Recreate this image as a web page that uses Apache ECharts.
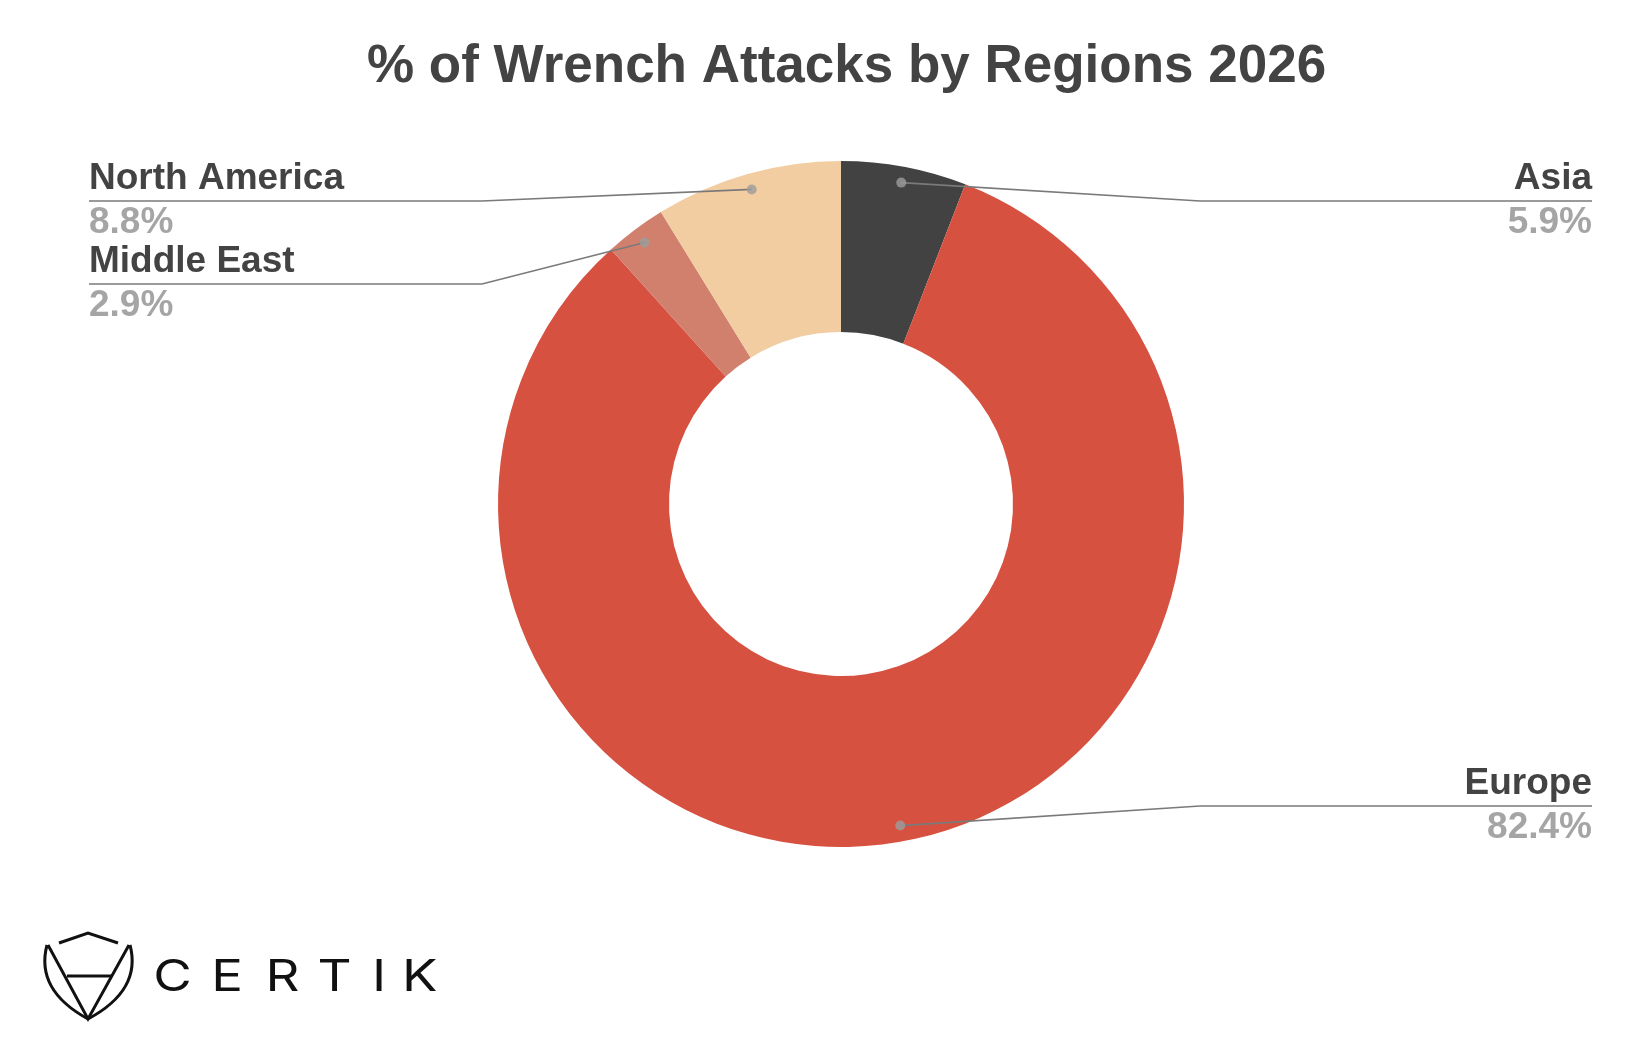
<!DOCTYPE html>
<html>
<head>
<meta charset="utf-8">
<script src="https://cdn.jsdelivr.net/npm/echarts@6/dist/echarts.min.js"></script>
<style>
html,body{margin:0;padding:0;background:#fff;}
#main{width:1642px;height:1046px;}
</style>
</head>
<body>
<div id="main"></div>
<script>
// ---- data ----
const regions = ['Asia', 'Europe', 'Middle East', 'North America'];
const shares = [5.9, 82.4, 2.9, 8.8];
const colors = ['#424242', '#d75141', '#d1806e', '#f2cda2'];
const titleText = '% of Wrench Attacks by Regions 2026';

// ---- layout (style, not data) ----
const CX = 841, CY = 504, R_OUT = 343, R_IN = 172, R_DOT = 327;
const labelLineY = [201, 806, 284, 201];
const LEFT_EDGE = 89, RIGHT_EDGE = 1592, BEND = 359;

const total = shares.reduce((a, b) => a + b, 0);
let acc = 0;
const dotData = shares.map(v => { const mid = acc + v / 2; acc += v; return [1, mid / total * 100]; });
const pieData = regions.map((n, i) => ({name: n, value: shares[i], itemStyle: {color: colors[i]}}));

const chart = echarts.init(document.getElementById('main'), null, {renderer: 'canvas'});
chart.setOption({
  backgroundColor: '#ffffff',
  animation: false,
  title: {
    text: titleText,
    left: 362, top: 36,
    textStyle: {fontFamily: 'Liberation Sans', fontWeight: 'bold', fontSize: 53, color: '#434343'}
  },
  polar: {center: [CX, CY], radius: R_DOT},
  angleAxis: {type: 'value', min: 0, max: 100, startAngle: 90, clockwise: true, show: false},
  radiusAxis: {type: 'value', min: 0, max: 1, show: false},
  series: [
    {
      type: 'pie',
      center: [CX, CY],
      radius: [R_IN, R_OUT],
      startAngle: 90,
      clockwise: true,
      silent: true,
      z: 1,
      data: pieData,
      label: {show: false},
      labelLine: {show: false}
    },
    {
      type: 'pie',
      center: [CX, CY],
      radius: [R_IN, R_OUT],
      startAngle: 90,
      clockwise: true,
      avoidLabelOverlap: false,
      silent: true,
      z: 3,
      itemStyle: {color: 'rgba(0,0,0,0)'},
      data: regions.map((n, i) => ({name: n, value: shares[i]})),
      label: {
        show: true,
        formatter: p => '{n|' + p.name + '}\n{v|' + p.value.toFixed(1) + '%}',
        rich: {
          n: {fontFamily: 'Liberation Sans', fontWeight: 'bold', fontSize: 37, color: '#434343', lineHeight: 44},
          v: {fontFamily: 'Liberation Sans', fontWeight: 'bold', fontSize: 37, color: '#a5a5a5', lineHeight: 44}
        }
      },
      labelLine: {show: true, smooth: false, lineStyle: {color: '#7a7a7a', width: 1.6}},
      labelLayout: function (params) {
        const i = params.dataIndex;
        const p0 = params.labelLinePoints[0];
        const k = R_DOT / R_OUT;
        const sx = CX + (p0[0] - CX) * k, sy = CY + (p0[1] - CY) * k;
        const isLeft = sx < CX;
        const y = labelLineY[i];
        const edge = isLeft ? LEFT_EDGE : RIGHT_EDGE;
        return {
          x: edge, y: y, align: isLeft ? 'left' : 'right', verticalAlign: 'middle',
          labelLinePoints: [[sx, sy], [CX + (isLeft ? -BEND : BEND), y], [edge, y]]
        };
      }
    },
    {
      type: 'scatter',
      coordinateSystem: 'polar',
      symbolSize: 10,
      silent: true,
      z: 5,
      itemStyle: {color: '#9c9c9c'},
      data: dotData
    }
  ],
  graphic: [
    {type: 'polyline', shape: {points: [[59, 943], [88, 933], [118, 943]]}, style: {stroke: '#111', lineWidth: 3, fill: null}},
    {type: 'bezierCurve', shape: {x1: 47, y1: 945, x2: 88, y2: 1019, cpx1: 35, cpy1: 990}, style: {stroke: '#111', lineWidth: 3, fill: null}},
    {type: 'bezierCurve', shape: {x1: 130, y1: 945, x2: 88, y2: 1019, cpx1: 142, cpy1: 990}, style: {stroke: '#111', lineWidth: 3, fill: null}},
    {type: 'polyline', shape: {points: [[48, 945], [88, 1019], [129, 945]]}, style: {stroke: '#111', lineWidth: 3, fill: null}},
    {type: 'line', shape: {x1: 67, y1: 976, x2: 112, y2: 976}, style: {stroke: '#111', lineWidth: 3}},
    {
      type: 'text', x: 145, y: 956, scaleX: 1.2, scaleY: 1,
      style: {
        text: '{a|C}{b|E}{c|R}{d|T}{e|I}{f|K}',
        rich: {
          a: {width: 46, align: 'center', fontFamily: 'Inter', fontWeight: 400, fontSize: 44, fill: '#111'},
          b: {width: 45, align: 'center', fontFamily: 'Inter', fontWeight: 400, fontSize: 44, fill: '#111'},
          c: {width: 47, align: 'center', fontFamily: 'Inter', fontWeight: 400, fontSize: 44, fill: '#111'},
          d: {width: 40, align: 'center', fontFamily: 'Inter', fontWeight: 400, fontSize: 44, fill: '#111'},
          e: {width: 34, align: 'center', fontFamily: 'Inter', fontWeight: 400, fontSize: 44, fill: '#111'},
          f: {width: 34, align: 'center', fontFamily: 'Inter', fontWeight: 400, fontSize: 44, fill: '#111'}
        }
      }
    }
  ]
});
</script>
</body>
</html>
